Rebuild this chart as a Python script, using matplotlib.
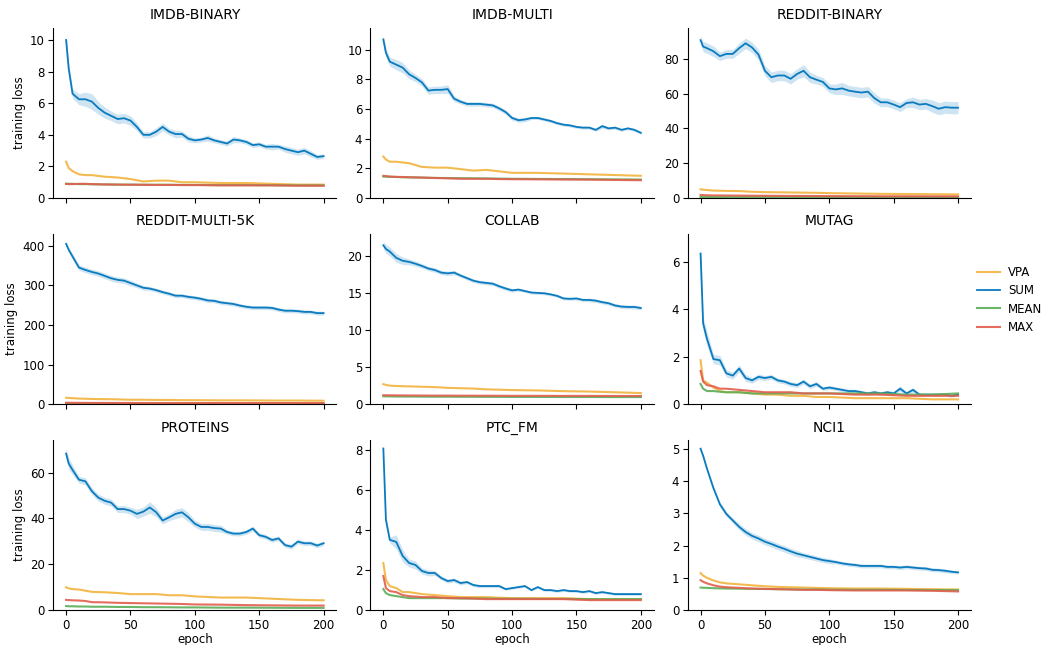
import numpy as np
import matplotlib
matplotlib.use('Agg')
import matplotlib.pyplot as plt

# ---- data (epoch samples) ----
X_SUM = [0, 2] + list(range(5, 201, 5))            # 42 points
X_SMALL = [0, 2, 5, 10, 15, 20, 30, 40, 50, 60, 70, 80, 90, 100, 120, 140, 160, 180, 200]

TITLES = ['IMDB-BINARY', 'IMDB-MULTI', 'REDDIT-BINARY',
          'REDDIT-MULTI-5K', 'COLLAB', 'MUTAG',
          'PROTEINS', 'PTC_FM', 'NCI1']

SUM = {
 'IMDB-BINARY': [10.0, 8.2, 6.6, 6.25, 6.25, 6.1, 5.7, 5.4, 5.2, 5.0, 5.05, 4.9, 4.5, 4.0, 4.0, 4.2, 4.5, 4.2,
                 4.05, 4.05, 3.75, 3.65, 3.7, 3.8, 3.65, 3.55, 3.45, 3.7, 3.65, 3.55, 3.35, 3.4, 3.25, 3.25,
                 3.25, 3.1, 3.0, 2.9, 3.0, 2.8, 2.6, 2.65],
 'IMDB-MULTI': [10.7, 9.8, 9.2, 9.0, 8.8, 8.35, 8.1, 7.8, 7.25, 7.3, 7.3, 7.35, 6.7, 6.5, 6.35, 6.35, 6.35, 6.3,
                6.25, 6.05, 5.8, 5.4, 5.25, 5.3, 5.4, 5.4, 5.3, 5.2, 5.05, 4.95, 4.9, 4.8, 4.75, 4.75,
                4.6, 4.85, 4.7, 4.75, 4.6, 4.7, 4.6, 4.4],
 'REDDIT-BINARY': [90.7, 87.0, 86.1, 84.3, 81.5, 82.8, 82.8, 86.1, 88.9, 86.5, 82.4, 73.1, 69.4, 70.4, 70.4,
                   68.5, 71.3, 73.1, 69.4, 68.0, 66.7, 63.0, 62.4, 63.0, 61.7, 61.1, 60.6, 61.1, 57.4, 55.0,
                   55.0, 53.7, 52.2, 54.6, 55.0, 53.7, 54.1, 52.8, 51.3, 52.2, 51.9, 51.9],
 'REDDIT-MULTI-5K': [405, 390, 373, 345, 339, 334, 330, 324, 318, 314, 312, 306, 300, 294, 292, 288, 283, 279,
                     274, 274, 271, 269, 266, 262, 261, 257, 255, 253, 249, 246, 244, 244, 244, 243, 239, 236,
                     236, 235, 233, 233, 230, 230],
 'COLLAB': [21.5, 21.0, 20.65, 19.8, 19.4, 19.25, 19.0, 18.7, 18.35, 18.15, 17.8, 17.7, 17.8, 17.4, 17.05,
            16.7, 16.5, 16.4, 16.3, 15.95, 15.65, 15.4, 15.5, 15.3, 15.1, 15.05, 15.0, 14.85, 14.65, 14.3,
            14.25, 14.3, 14.1, 14.1, 14.0, 13.8, 13.65, 13.35, 13.2, 13.15, 13.15, 13.0],
 'MUTAG': [6.35, 3.4, 2.75, 1.9, 1.85, 1.3, 1.2, 1.5, 1.1, 1.0, 1.15, 1.1, 1.15, 1.0, 0.95, 0.85, 0.8, 0.95,
           0.75, 0.85, 0.65, 0.7, 0.65, 0.6, 0.55, 0.55, 0.5, 0.45, 0.5, 0.45, 0.5, 0.45, 0.65, 0.45, 0.6,
           0.4, 0.4, 0.4, 0.4, 0.4, 0.35, 0.4],
 'PROTEINS': [68.3, 64.0, 61.2, 56.9, 56.2, 51.9, 49.1, 47.7, 46.9, 44.1, 44.1, 43.4, 42.0, 43.0, 44.8, 42.7,
              39.1, 40.5, 42.0, 42.7, 40.5, 37.7, 36.3, 36.3, 35.8, 35.6, 34.1, 33.4, 33.4, 34.1, 35.6, 32.7,
              32.0, 30.6, 31.3, 28.4, 27.7, 29.9, 29.2, 29.2, 28.2, 29.2],
 'PTC_FM': [8.05, 4.5, 3.5, 3.4, 2.7, 2.35, 2.25, 1.95, 1.85, 1.85, 1.6, 1.45, 1.5, 1.35, 1.4, 1.25, 1.2, 1.2,
            1.2, 1.2, 1.05, 1.1, 1.15, 1.2, 1.0, 1.15, 1.0, 1.0, 0.95, 1.0, 0.95, 0.95, 0.9, 0.95, 0.85, 0.9,
            0.85, 0.8, 0.8, 0.8, 0.8, 0.8],
 'NCI1': [5.0, 4.78, 4.38, 3.78, 3.28, 2.98, 2.78, 2.58, 2.42, 2.3, 2.22, 2.12, 2.05, 1.97, 1.9, 1.82, 1.75,
          1.7, 1.65, 1.6, 1.55, 1.52, 1.49, 1.45, 1.42, 1.4, 1.37, 1.37, 1.37, 1.37, 1.34, 1.34, 1.32, 1.34,
          1.32, 1.3, 1.29, 1.25, 1.24, 1.22, 1.19, 1.17],
}

# half width of the shaded band around SUM, same epochs as X_SUM
SUM_BAND = {
 'IMDB-BINARY': [0.3, 0.3, 0.3, 0.35, 0.45, 0.5, 0.4, 0.35, 0.3, 0.3, 0.3, 0.3, 0.25, 0.2, 0.2, 0.25, 0.25, 0.2,
                 0.25, 0.2, 0.2, 0.15, 0.15, 0.2, 0.15, 0.15, 0.15, 0.2, 0.15, 0.15, 0.15, 0.15, 0.15, 0.2,
                 0.15, 0.2, 0.2, 0.2, 0.2, 0.2, 0.15, 0.15],
 'IMDB-MULTI': [0.3, 0.3, 0.3, 0.35, 0.35, 0.3, 0.25, 0.25, 0.25, 0.25, 0.25, 0.3, 0.2, 0.15, 0.15, 0.15, 0.15,
                0.15, 0.15, 0.15, 0.15, 0.15, 0.15, 0.15, 0.1, 0.1, 0.1, 0.1, 0.1, 0.1, 0.1, 0.1, 0.1, 0.1,
                0.1, 0.15, 0.1, 0.1, 0.1, 0.1, 0.1, 0.1],
 'REDDIT-BINARY': [2.5, 3.0, 3.0, 3.0, 2.5, 2.5, 2.5, 3.0, 3.0, 3.0, 3.0, 3.0, 3.0, 3.0, 3.0, 3.0, 3.0, 3.5,
                   3.0, 2.5, 2.5, 2.5, 3.0, 3.5, 3.0, 3.0, 3.0, 3.0, 3.0, 2.5, 2.5, 2.5, 2.5, 2.5, 3.0, 3.0,
                   3.0, 3.5, 3.5, 3.5, 3.5, 3.5],
 'REDDIT-MULTI-5K': [5, 6, 7, 7, 7, 7, 7, 7, 7, 7, 7, 7, 6, 6, 5, 5, 5, 5, 5, 5, 5, 5, 5, 5, 5, 5, 5, 5, 5, 5,
                     5, 5, 5, 5, 5, 5, 5, 5, 5, 5, 5, 5],
 'COLLAB': [0.5, 0.6, 0.6, 0.6, 0.5, 0.4, 0.35, 0.3, 0.3, 0.3, 0.3, 0.3, 0.3, 0.25, 0.25, 0.25, 0.25, 0.25,
            0.25, 0.25, 0.25, 0.25, 0.2, 0.2, 0.2, 0.2, 0.2, 0.2, 0.2, 0.2, 0.2, 0.2, 0.2, 0.25, 0.25, 0.25,
            0.25, 0.25, 0.25, 0.25, 0.25, 0.25],
 'MUTAG': [0.5, 0.3, 0.3, 0.2, 0.2, 0.15, 0.15, 0.15, 0.15, 0.12, 0.12, 0.1, 0.1, 0.1, 0.1, 0.1, 0.1, 0.1, 0.1,
           0.1, 0.08, 0.08, 0.08, 0.08, 0.08, 0.08, 0.08, 0.08, 0.08, 0.08, 0.08, 0.08, 0.12, 0.08, 0.1, 0.06,
           0.06, 0.06, 0.06, 0.06, 0.06, 0.06],
 'PROTEINS': [2.5, 2.5, 2.0, 1.5, 1.5, 1.5, 1.5, 1.5, 1.5, 1.5, 1.5, 1.5, 2.0, 2.0, 2.5, 2.0, 1.5, 1.5, 2.0,
              2.0, 2.0, 1.5, 1.5, 1.5, 1.5, 1.5, 1.0, 1.0, 1.0, 1.0, 1.0, 1.0, 1.0, 1.0, 1.0, 1.0, 1.0, 1.0,
              1.0, 1.0, 1.0, 1.0],
 'PTC_FM': [0.05, 0.2, 0.15, 0.35, 0.3, 0.2, 0.2, 0.15, 0.15, 0.12, 0.1, 0.1, 0.1, 0.1, 0.08, 0.08, 0.08,
            0.08, 0.08, 0.08, 0.06, 0.06, 0.06, 0.06, 0.06, 0.06, 0.06, 0.06, 0.06, 0.06, 0.06, 0.06, 0.06,
            0.06, 0.06, 0.06, 0.06, 0.06, 0.06, 0.06, 0.06, 0.06],
 'NCI1': [0.05, 0.05, 0.05, 0.06, 0.08, 0.08, 0.08, 0.1, 0.1, 0.1, 0.1, 0.1, 0.1, 0.1, 0.1, 0.1, 0.1, 0.08,
          0.08, 0.08, 0.08, 0.08, 0.06, 0.06, 0.06, 0.06, 0.06, 0.06, 0.06, 0.06, 0.06, 0.06, 0.06, 0.06,
          0.06, 0.06, 0.06, 0.06, 0.06, 0.06, 0.05, 0.05],
}

# VPA / MEAN / MAX at X_SMALL epochs
VPA = {
 'IMDB-BINARY': [2.3, 1.9, 1.7, 1.5, 1.45, 1.45, 1.35, 1.3, 1.2, 1.05, 1.1, 1.1, 1.0, 1.0, 0.95, 0.95, 0.9, 0.85, 0.85],
 'IMDB-MULTI': [2.8, 2.6, 2.45, 2.45, 2.4, 2.35, 2.1, 2.05, 2.05, 1.95, 1.85, 1.9, 1.8, 1.7, 1.7, 1.65, 1.6, 1.55, 1.5],
 'REDDIT-BINARY': [5.0, 4.8, 4.6, 4.3, 4.2, 4.1, 4.0, 3.6, 3.4, 3.3, 3.2, 3.1, 3.0, 2.8, 2.6, 2.4, 2.3, 2.2, 2.1],
 'REDDIT-MULTI-5K': [16, 15.5, 15, 14, 13.5, 13, 12.5, 12, 11, 11, 10.5, 10.5, 10, 10, 9.5, 9.5, 9, 9, 8.5],
 'COLLAB': [2.7, 2.6, 2.5, 2.45, 2.42, 2.4, 2.35, 2.3, 2.2, 2.15, 2.1, 2.0, 1.95, 1.9, 1.85, 1.75, 1.7, 1.6, 1.5],
 'MUTAG': [1.85, 1.0, 0.9, 0.7, 0.55, 0.5, 0.5, 0.45, 0.4, 0.4, 0.35, 0.35, 0.3, 0.3, 0.25, 0.25, 0.25, 0.2, 0.2],
 'PROTEINS': [10.0, 9.5, 9.2, 9.0, 8.5, 8.0, 7.8, 7.5, 7.0, 7.0, 7.0, 6.5, 6.5, 6.0, 5.5, 5.5, 5.0, 4.5, 4.3],
 'PTC_FM': [2.35, 1.5, 1.2, 1.1, 0.9, 0.9, 0.8, 0.75, 0.7, 0.65, 0.65, 0.65, 0.62, 0.6, 0.6, 0.6, 0.55, 0.55, 0.55],
 'NCI1': [1.15, 1.07, 1.0, 0.92, 0.86, 0.83, 0.8, 0.77, 0.74, 0.72, 0.71, 0.7, 0.69, 0.68, 0.67, 0.67, 0.66, 0.65, 0.64],
}
MEAN = {
 'IMDB-BINARY': [0.9, 0.9, 0.9, 0.88, 0.88, 0.87, 0.86, 0.85, 0.85, 0.84, 0.84, 0.84, 0.83, 0.83, 0.82, 0.82, 0.81, 0.8, 0.8],
 'IMDB-MULTI': [1.45, 1.44, 1.43, 1.42, 1.4, 1.4, 1.38, 1.36, 1.35, 1.34, 1.33, 1.32, 1.31, 1.3, 1.29, 1.28, 1.27, 1.26, 1.25],
 'REDDIT-BINARY': [0.6, 0.6, 0.6, 0.58, 0.58, 0.56, 0.55, 0.54, 0.53, 0.52, 0.51, 0.5, 0.5, 0.5, 0.49, 0.48, 0.48, 0.47, 0.47],
 'REDDIT-MULTI-5K': [1.7, 1.7, 1.7, 1.68, 1.66, 1.65, 1.64, 1.63, 1.62, 1.61, 1.6, 1.6, 1.6, 1.6, 1.6, 1.6, 1.6, 1.6, 1.6],
 'COLLAB': [1.05, 1.05, 1.04, 1.03, 1.02, 1.02, 1.01, 1.0, 1.0, 0.99, 0.99, 0.98, 0.98, 0.97, 0.97, 0.96, 0.96, 0.95, 0.95],
 'MUTAG': [0.85, 0.65, 0.55, 0.55, 0.52, 0.5, 0.5, 0.45, 0.45, 0.45, 0.45, 0.45, 0.45, 0.45, 0.45, 0.45, 0.4, 0.4, 0.45],
 'PROTEINS': [1.8, 1.7, 1.7, 1.6, 1.6, 1.5, 1.5, 1.4, 1.4, 1.3, 1.3, 1.25, 1.2, 1.2, 1.1, 1.1, 1.05, 1.0, 1.0],
 'PTC_FM': [1.05, 0.85, 0.75, 0.7, 0.65, 0.6, 0.6, 0.6, 0.6, 0.58, 0.58, 0.58, 0.57, 0.57, 0.56, 0.56, 0.55, 0.55, 0.55],
 'NCI1': [0.7, 0.695, 0.69, 0.68, 0.675, 0.67, 0.665, 0.66, 0.655, 0.65, 0.645, 0.64, 0.64, 0.635, 0.63, 0.63, 0.625, 0.62, 0.62],
}
MAX = {
 'IMDB-BINARY': [0.9, 0.88, 0.88, 0.9, 0.9, 0.88, 0.86, 0.85, 0.84, 0.84, 0.83, 0.83, 0.82, 0.82, 0.8, 0.8, 0.8, 0.78, 0.78],
 'IMDB-MULTI': [1.5, 1.48, 1.45, 1.43, 1.42, 1.4, 1.38, 1.35, 1.33, 1.3, 1.3, 1.3, 1.28, 1.27, 1.26, 1.25, 1.24, 1.22, 1.2],
 'REDDIT-BINARY': [1.8, 1.7, 1.6, 1.5, 1.5, 1.45, 1.4, 1.35, 1.3, 1.25, 1.2, 1.2, 1.15, 1.1, 1.05, 1.0, 1.0, 0.95, 0.95],
 'REDDIT-MULTI-5K': [3.5, 3.4, 3.3, 3.2, 3.1, 3.0, 3.0, 2.9, 2.9, 2.8, 2.8, 2.8, 2.7, 2.7, 2.7, 2.6, 2.6, 2.6, 2.5],
 'COLLAB': [1.2, 1.2, 1.19, 1.18, 1.18, 1.17, 1.16, 1.15, 1.15, 1.14, 1.14, 1.13, 1.13, 1.12, 1.12, 1.11, 1.11, 1.1, 1.1],
 'MUTAG': [1.4, 0.95, 0.8, 0.75, 0.65, 0.65, 0.6, 0.55, 0.5, 0.5, 0.5, 0.45, 0.45, 0.45, 0.4, 0.4, 0.35, 0.35, 0.35],
 'PROTEINS': [4.5, 4.4, 4.3, 4.2, 4.0, 3.5, 3.4, 3.2, 3.1, 3.0, 2.9, 2.8, 2.7, 2.5, 2.4, 2.2, 2.1, 2.0, 2.0],
 'PTC_FM': [1.7, 1.1, 0.95, 0.9, 0.75, 0.7, 0.65, 0.65, 0.6, 0.6, 0.58, 0.55, 0.55, 0.55, 0.55, 0.55, 0.5, 0.5, 0.5],
 'NCI1': [0.93, 0.88, 0.83, 0.77, 0.73, 0.71, 0.69, 0.67, 0.66, 0.65, 0.64, 0.63, 0.63, 0.62, 0.61, 0.61, 0.61, 0.6, 0.58],
}

C_VPA, C_SUM, C_MEAN, C_MAX = '#F2B33D', '#0A7BBF', '#5AAE57', '#E35D4D'

plt.rcParams.update({'font.family': 'DejaVu Sans', 'font.size': 8.5,
                     'axes.spines.top': False, 'axes.spines.right': False})
fig, axes = plt.subplots(3, 3, figsize=(10.44, 6.45), dpi=100, sharex=True)
fig.subplots_adjust(left=0.051, right=0.930, top=0.957, bottom=0.054, wspace=0.12, hspace=0.21)

xs = np.array(X_SUM)
for ax, name in zip(axes.flat, TITLES):
    s = np.array(SUM[name]); b = np.array(SUM_BAND[name])
    ax.plot(X_SMALL, VPA[name], color=C_VPA, lw=1.5, alpha=0.9, label='VPA')
    ax.fill_between(xs, s - b, s + b, color=C_SUM, alpha=0.2, lw=0)
    ax.plot(xs, s, color=C_SUM, lw=1.3, label='SUM')
    ax.plot(X_SMALL, MEAN[name], color=C_MEAN, lw=1.5, alpha=0.9, label='MEAN')
    ax.plot(X_SMALL, MAX[name], color=C_MAX, lw=1.5, alpha=0.9, label='MAX')
    ax.set_title(name, fontsize=10)
    ax.set_ylim(bottom=0)
    ax.set_xticks([0, 50, 100, 150, 200])
    ax.tick_params(labelsize=8.5, pad=2.5)

for ax in axes[:, 0]:
    ax.set_ylabel('training loss', labelpad=3)
for ax in axes[2, :]:
    ax.set_xlabel('epoch', labelpad=1)

h, l = axes[0, 0].get_legend_handles_labels()
fig.legend(h, l, loc='center left', bbox_to_anchor=(0.926, 0.535), frameon=False, fontsize=8.5,
           handlelength=1.9, handletextpad=0.7, labelspacing=0.45)

fig.savefig('out.png', dpi=100)
